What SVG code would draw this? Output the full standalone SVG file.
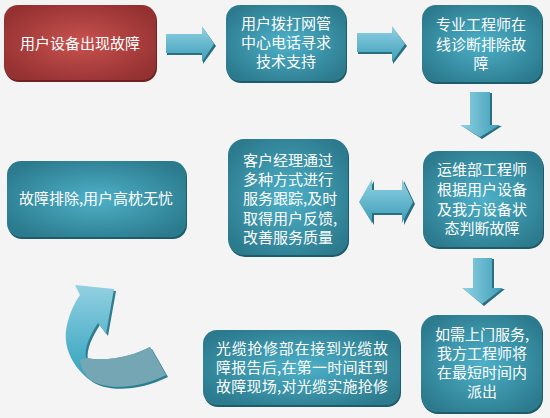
<svg xmlns="http://www.w3.org/2000/svg" width="550" height="418" viewBox="0 0 550 418">
<defs>
<radialGradient id="gTeal" cx="50%" cy="50%" r="60%">
<stop offset="0%" stop-color="#4db1c9"/>
<stop offset="100%" stop-color="#2c7a8d"/>
</radialGradient>
<radialGradient id="gRed" cx="50%" cy="50%" r="60%">
<stop offset="0%" stop-color="#c8524f"/>
<stop offset="100%" stop-color="#943131"/>
</radialGradient>
<linearGradient id="gArrH" x1="0" y1="0" x2="0" y2="1">
<stop offset="0%" stop-color="#92d2e4"/>
<stop offset="100%" stop-color="#3c9db7"/>
</linearGradient>
<linearGradient id="gArrV" x1="0" y1="0" x2="1" y2="0">
<stop offset="0%" stop-color="#92d2e4"/>
<stop offset="100%" stop-color="#3c9db7"/>
</linearGradient>
<linearGradient id="gCurve" x1="0" y1="0" x2="0" y2="1">
<stop offset="0%" stop-color="#93d0e2"/>
<stop offset="70%" stop-color="#48adc6"/>
<stop offset="100%" stop-color="#3a9ab4"/>
</linearGradient>
<style>
.box{fill:url(#gTeal)}
.red{fill:url(#gRed)}
.sh{fill:#1f5c6b}
.shr{fill:#6e2222}
.arrH{fill:url(#gArrH)}
.arrV{fill:url(#gArrV)}
.ash{fill:#2a6f80}
text{font-family:"Noto Sans CJK SC","Noto Sans",sans-serif;font-size:15px;fill:#ffffff;dominant-baseline:central}
.c{text-anchor:middle}
</style>
</defs>
<rect width="550" height="418" fill="#f4f4f4"/>

<g id="connectors">
<polygon class="ash" points="167,36 203,36 203,28 216,46 203,64 203,55 167,55"/>
<polygon class="arrH" points="166,34 202,34 202,26 214,44 202,62 202,53 166,53"/>
<polygon class="ash" points="358,35 393,35 393,28 407,46 393,64 393,54 358,54"/>
<polygon class="arrH" points="357,33 392,33 392,26 405,44 392,62 392,52 357,52"/>
<polygon class="ash" points="472,93 492,93 492,126 502,126 482,139 462,126 472,126"/>
<polygon class="arrV" points="470,92 490,92 490,125 500,125 480,137 460,125 470,125"/>
<polygon class="ash" points="475,259 494,259 494,289 505,289 484,306 464,289 475,289"/>
<polygon class="arrV" points="473,258 492,258 492,288 503,288 482,304 462,288 473,288"/>
<polygon class="ash" points="361,204 374,181 374,192 404,192 404,181 415,204 404,225 404,215 374,215 374,225"/>
<polygon class="arrH" points="359,202 372,179 372,190 402,190 402,179 413,202 402,223 402,213 372,213 372,223"/>
<g id="curved-arrow">
<path d="M78,287 L116,291 L108,336 L100,325 C92,337 86,350 88,360 C112,364 137,357 152,349 L168,377 C142,390 107,394 90,380 C74,368 64,347 69,327 C72,314 77,304 82,297 Z" fill="#2f7d90"/>
<path d="M75,285 L114,289 L106,334 L98,323 C90,335 84,348 86,358 C110,362 135,355 150,347 L166,375 C140,388 105,392 88,378 C72,366 62,345 67,325 C70,312 75,302 80,295 Z" fill="url(#gCurve)"/>
<path d="M86,358 C110,362 135,355 150,347 L166,375 C140,388 105,392 88,378 C84,373 81,366 80,360 Z" fill="#74a7b3"/>
</g>
</g>

<g id="n1">
<rect class="shr" x="5" y="7" width="152" height="75" rx="14"/>
<rect class="red" x="4" y="5" width="152" height="75" rx="14"/>
<text class="c" x="80" y="42">用户设备出现故障</text>
</g>
<g id="n2">
<rect class="sh" x="227" y="7" width="120" height="76" rx="14"/>
<rect class="box" x="226" y="5" width="120" height="76" rx="14"/>
<text class="c" x="286" y="22">用户拨打网管</text>
<text class="c" x="286" y="41">中心电话寻求</text>
<text class="c" x="286" y="60">技术支持</text>
</g>
<g id="n3">
<rect class="sh" x="423" y="7" width="120" height="77" rx="14"/>
<rect class="box" x="422" y="5" width="120" height="77" rx="14"/>
<text class="c" x="481" y="23">专业工程师在</text>
<text class="c" x="481" y="43">线诊断排除故</text>
<text class="c" x="481" y="62">障</text>
</g>
<g id="n4">
<rect class="sh" x="424" y="153" width="120" height="96" rx="15"/>
<rect class="box" x="423" y="151" width="120" height="96" rx="15"/>
<text class="c" x="482" y="168">运维部工程师</text>
<text class="c" x="482" y="188">根据用户设备</text>
<text class="c" x="482" y="208">及我方设备状</text>
<text class="c" x="482" y="227">态判断故障</text>
</g>
<g id="n5">
<rect class="sh" x="229" y="141" width="120" height="116" rx="16"/>
<rect class="box" x="228" y="139" width="120" height="116" rx="16"/>
<text x="243" y="159">客户经理通过</text>
<text x="243" y="178">多种方式进行</text>
<text x="243" y="197">服务跟踪,及时</text>
<text x="243" y="217">取得用户反馈,</text>
<text x="243" y="236">改善服务质量</text>
</g>
<g id="n6">
<rect class="sh" x="8" y="163" width="179" height="76" rx="14"/>
<rect class="box" x="7" y="161" width="179" height="76" rx="14"/>
<text class="c" x="96" y="197">故障排除,用户高枕无忧</text>
</g>
<g id="n7">
<rect class="sh" x="422" y="317" width="121" height="97" rx="16"/>
<rect class="box" x="421" y="315" width="121" height="97" rx="16"/>
<text class="c" x="482" y="333">如需上门服务,</text>
<text class="c" x="482" y="352">我方工程师将</text>
<text class="c" x="482" y="371">在最短时间内</text>
<text class="c" x="482" y="390">派出</text>
</g>
<g id="n8">
<rect class="sh" x="204" y="332" width="197" height="75" rx="14"/>
<rect class="box" x="203" y="330" width="197" height="75" rx="14"/>
<text x="216" y="347" textLength="172" lengthAdjust="spacing">光缆抢修部在接到光缆故</text>
<text x="216" y="366" textLength="172" lengthAdjust="spacing">障报告后,在第一时间赶到</text>
<text x="216" y="385" textLength="172" lengthAdjust="spacing">故障现场,对光缆实施抢修</text>
</g>
</svg>
